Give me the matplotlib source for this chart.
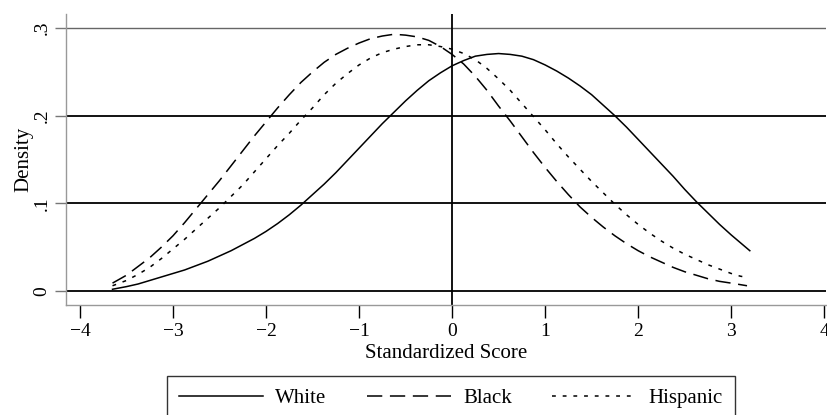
import matplotlib
matplotlib.use('Agg')
import matplotlib.pyplot as plt

# --- Data ---
x_grid = [-3.65, -3.5, -3.375, -3.25, -3.125, -3.0, -2.875, -2.75, -2.625, -2.5, -2.375, -2.25, -2.125, -2.0,
          -1.875, -1.75, -1.625, -1.5, -1.375, -1.25, -1.125, -1.0, -0.875, -0.75, -0.625, -0.5, -0.375, -0.25,
          -0.125, 0.0, 0.125, 0.25, 0.375, 0.5, 0.625, 0.75, 0.875, 1.0, 1.125, 1.25, 1.375, 1.5, 1.625, 1.75,
          1.875, 2.0, 2.125, 2.25, 2.375, 2.5, 2.625, 2.75, 2.875, 3.0]

x_white = x_grid + [3.1, 3.2]
y_white = [0.002, 0.005, 0.008, 0.012, 0.016, 0.020, 0.024, 0.029, 0.034, 0.040, 0.046, 0.053, 0.060, 0.068,
           0.077, 0.087, 0.098, 0.110, 0.122, 0.135, 0.149, 0.163, 0.177, 0.191, 0.204, 0.217, 0.229, 0.240,
           0.249, 0.257, 0.263, 0.268, 0.270, 0.271, 0.270, 0.268, 0.264, 0.258, 0.251, 0.243, 0.234, 0.224,
           0.212, 0.200, 0.187, 0.173, 0.159, 0.145, 0.131, 0.116, 0.102, 0.089, 0.076, 0.064, 0.055, 0.046]

x_black = x_grid + [3.085, 3.17]
y_black = [0.009, 0.018, 0.028, 0.038, 0.050, 0.063, 0.078, 0.094, 0.110, 0.126, 0.143, 0.160, 0.177, 0.193,
           0.209, 0.224, 0.238, 0.250, 0.261, 0.270, 0.277, 0.283, 0.288, 0.291, 0.293, 0.292, 0.290, 0.286,
           0.279, 0.270, 0.259, 0.245, 0.229, 0.211, 0.194, 0.176, 0.158, 0.141, 0.125, 0.110, 0.096, 0.084,
           0.073, 0.063, 0.054, 0.046, 0.039, 0.033, 0.027, 0.022, 0.018, 0.014, 0.011, 0.009, 0.0075, 0.006]

x_hisp = x_grid + [3.095, 3.19]
y_hisp = [0.006, 0.012, 0.019, 0.027, 0.037, 0.048, 0.059, 0.071, 0.083, 0.095, 0.108, 0.121, 0.136, 0.151,
          0.166, 0.180, 0.195, 0.209, 0.224, 0.237, 0.248, 0.258, 0.266, 0.272, 0.276, 0.279, 0.281, 0.281,
          0.279, 0.276, 0.271, 0.264, 0.254, 0.242, 0.229, 0.214, 0.199, 0.184, 0.168, 0.153, 0.139, 0.125,
          0.112, 0.099, 0.087, 0.076, 0.066, 0.057, 0.049, 0.042, 0.036, 0.030, 0.025, 0.020, 0.017, 0.015]

x_ticks = [-4, -3, -2, -1, 0, 1, 2, 3, 4]
x_ticklabels = ['\u22124', '\u22123', '\u22122', '\u22121', '0', '1', '2', '3', '4']
y_ticks = [0, 0.1, 0.2, 0.3]
y_ticklabels = ['0', '.1', '.2', '.3']

# --- Setup ---
plt.rcParams['font.family'] = ['Liberation Serif', 'DejaVu Serif']
fig = plt.figure(figsize=(8.28, 4.15), dpi=100)
ax = fig.add_axes([0.0797, 0.265, 0.918, 0.701])

# reference lines
for yv in y_ticks[:3]:
    ax.axhline(yv, color='black', lw=1.3, zorder=1)
ax.axhline(0.3, color='#666666', lw=1.0, zorder=1)
ax.axvline(0, color='black', lw=1.3, zorder=1)

# curves
ax.plot(x_white, y_white, color='black', lw=1.1, label='White')
ax.plot(x_black, y_black, color='black', lw=1.1, dashes=(10, 5), label='Black')
ax.plot(x_hisp, y_hisp, color='black', lw=1.1, dashes=(2.5, 4.5), label='Hispanic')

ax.set_xlim(-4.15, 4.02)
ax.set_ylim(-0.016, 0.316)

ax.set_xticks(x_ticks)
ax.set_xticklabels(x_ticklabels, fontsize=14)
ax.set_yticks(y_ticks)
ax.set_yticklabels(y_ticklabels, fontsize=14, rotation=90, va='center')
ax.tick_params(axis='x', length=9, width=1.0, color='black', pad=4)
ax.tick_params(axis='y', length=8, width=1.0, color='#777777', pad=3)

for side in ['top', 'right']:
    ax.spines[side].set_visible(False)
for side in ['left', 'bottom']:
    ax.spines[side].set_color('#999999')
    ax.spines[side].set_linewidth(1.0)

ax.set_xlabel('Standardized Score', fontsize=15, labelpad=3)
ax.set_ylabel('Density', fontsize=15, labelpad=0)

# --- Legend ---
leg = fig.legend(loc='upper left', bbox_to_anchor=(167 / 828, 1 - 376 / 415), ncol=3, fontsize=15,
                 frameon=True, fancybox=False, edgecolor='black', handlelength=4.0,
                 columnspacing=1.95, handletextpad=0.6, borderpad=0.6, borderaxespad=0)
leg.get_frame().set_linewidth(1.0)

# --- Save Figure ---
plt.savefig('out.png', dpi=100)
